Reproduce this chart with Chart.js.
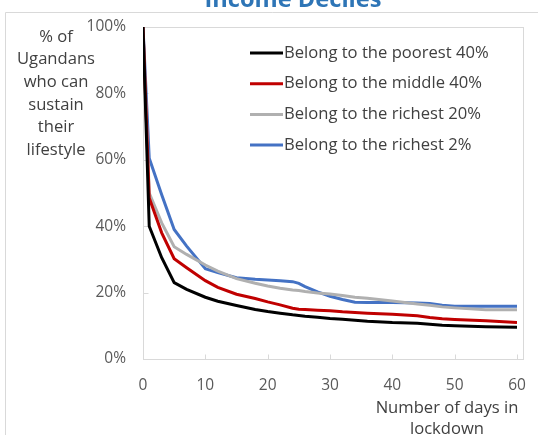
<!DOCTYPE html>
<html>
<head>
<meta charset="utf-8">
<script src="https://cdn.jsdelivr.net/npm/chart.js@4/dist/chart.umd.min.js"></script>
<style>
html,body{margin:0;padding:0;background:#fff;overflow:hidden;}
#wrap{position:relative;width:538px;height:435px;}
canvas{display:block;}
</style>
</head>
<body>
<div id="wrap"><canvas id="c" width="538" height="435"></canvas></div>
<script>
const chartTitle = 'Income Deciles';
const yTitleLines = ['% of', 'Ugandans', 'who can', 'sustain', 'their', 'lifestyle'];
const xTitleLines = ['Number of days in', 'lockdown'];
const seriesLabels = ['Belong to the poorest 40%', 'Belong to the middle 40%', 'Belong to the richest 20%', 'Belong to the richest 2%'];
const days = [0, 1, 3, 5, 7, 10, 12, 15, 18, 20, 22, 24, 25, 26, 28, 30, 32, 34, 36, 40, 44, 46, 48, 50, 55, 60];
const poorest40 = [100, 40, 30.5, 23, 21, 18.6, 17.4, 16.1, 14.9, 14.3, 13.8, 13.3, 13.1, 12.9, 12.6, 12.2, 12, 11.7, 11.4, 11, 10.8, 10.5, 10.2, 10, 9.7, 9.6];
const middle40 = [100, 48.5, 38, 30.2, 27.5, 23.6, 21.6, 19.5, 18.2, 17.2, 16.3, 15.3, 15, 14.9, 14.7, 14.5, 14.2, 14, 13.8, 13.5, 13, 12.5, 12.1, 11.9, 11.5, 11];
const richest20 = [100, 50, 41, 33.8, 31.5, 28.3, 26.5, 24.2, 22.8, 22, 21.3, 20.8, 20.6, 20.3, 19.9, 19.6, 19.1, 18.6, 18.3, 17.5, 16.6, 16.2, 15.7, 15.4, 14.8, 14.8];
const richest2 = [100, 60.5, 49.5, 39, 34, 27.2, 26, 24.5, 24, 23.8, 23.6, 23.3, 22.8, 21.8, 20.2, 18.9, 17.9, 17.1, 17, 17, 16.9, 16.7, 16.2, 15.9, 15.9, 15.9];
const xTicks = [0, 10, 20, 30, 40, 50, 60];
const yTicks = [0, 20, 40, 60, 80, 100];

const colors = ['#000000', '#C00000', '#B0B0B0', '#4472C4'];
const allSeries = [poorest40, middle40, richest20, richest2];
const FONT = '"Open Sans", "Noto Sans", sans-serif';
const gridColor = '#D9D9D9';

const datasets = allSeries.map((s, i) => ({
  label: seriesLabels[i],
  data: days.map((d, j) => ({x: d, y: s[j]})),
  borderColor: colors[i],
  backgroundColor: colors[i],
  borderWidth: 3,
  pointRadius: 0,
  tension: 0,
  fill: false
}));

const decor = {
  id: 'decor',
  beforeDraw(chart) {
    const ctx = chart.ctx;
    ctx.save();
    ctx.fillStyle = '#fff';
    ctx.fillRect(0, 0, chart.width, chart.height);
    ctx.strokeStyle = gridColor;
    ctx.lineWidth = 1;
    ctx.beginPath();
    ctx.moveTo(5.5, chart.height + 2);
    ctx.lineTo(5.5, 12.5);
    ctx.lineTo(chart.width + 2, 12.5);
    ctx.stroke();
    ctx.fillStyle = '#2E75B6';
    let size = 20;
    ctx.font = 'bold ' + size + 'px ' + FONT;
    const w = ctx.measureText(chartTitle).width;
    size = size * 177 / w;
    ctx.font = 'bold ' + size.toFixed(1) + 'px ' + FONT;
    ctx.textAlign = 'center';
    ctx.textBaseline = 'alphabetic';
    ctx.fillText(chartTitle, 293, 7);
    ctx.restore();
  },
  beforeDatasetsDraw(chart) {
    const ctx = chart.ctx;
    const a = chart.chartArea;
    const xs = chart.scales.x, ys = chart.scales.y;
    ctx.save();
    ctx.strokeStyle = gridColor;
    ctx.lineWidth = 1;
    const L = Math.round(a.left) + 0.5, T = Math.round(a.top) + 0.5;
    const R = Math.round(a.right) + 6.5, B = Math.round(a.bottom) + 0.5;
    ctx.strokeRect(L, T, R - L, B - T);
    ctx.beginPath();
    xTicks.forEach(t => {
      const px = Math.round(xs.getPixelForValue(t)) + 0.5;
      ctx.moveTo(px, B);
      ctx.lineTo(px, B - 5);
    });
    yTicks.forEach(t => {
      const py = Math.round(ys.getPixelForValue(t)) + 0.5;
      ctx.moveTo(L, py);
      ctx.lineTo(L + 5, py);
    });
    ctx.stroke();
    ctx.restore();
  },
  afterDraw(chart) {
    const ctx = chart.ctx;
    ctx.save();
    ctx.font = '16.6px ' + FONT;
    ctx.fillStyle = '#404040';
    ctx.textAlign = 'center';
    ctx.textBaseline = 'middle';
    yTitleLines.forEach((t, i) => ctx.fillText(t, 56, 37 + i * 22.6));
    xTitleLines.forEach((t, i) => ctx.fillText(t, 447, 408 + i * 21));
    ctx.textAlign = 'left';
    chart.data.datasets.forEach((ds, i) => {
      const y = 53 + i * 30.7;
      ctx.strokeStyle = ds.borderColor;
      ctx.lineWidth = 3;
      ctx.beginPath();
      ctx.moveTo(250, y);
      ctx.lineTo(283, y);
      ctx.stroke();
      ctx.fillStyle = '#404040';
      ctx.fillText(ds.label, 284, y);
    });
    ctx.restore();
  }
};

new Chart(document.getElementById('c'), {
  type: 'line',
  data: {datasets},
  options: {
    responsive: false,
    animation: false,
    devicePixelRatio: 1,
    layout: {padding: {top: 27, right: 21, left: 0, bottom: 0}},
    plugins: {legend: {display: false}, title: {display: false}, tooltip: {enabled: false}},
    scales: {
      x: {
        type: 'linear',
        min: 0,
        max: 60,
        afterBuildTicks(scale) { scale.ticks = xTicks.map(v => ({value: v})); },
        afterFit(scale) { scale.height = 76; scale.paddingRight = 0; scale.paddingLeft = 0; },
        grid: {display: false, drawTicks: false},
        border: {display: false},
        ticks: {color: '#595959', font: {family: FONT, size: 15.5}, padding: 17, maxRotation: 0, autoSkip: false}
      },
      y: {
        min: 0,
        max: 100,
        afterBuildTicks(scale) { scale.ticks = yTicks.map(v => ({value: v})); },
        afterFit(scale) { scale.width = 143; },
        grid: {display: false, drawTicks: false},
        border: {display: false},
        ticks: {color: '#595959', font: {family: FONT, size: 15.5}, padding: 17, callback: v => v + '%'}
      }
    }
  },
  plugins: [decor]
});
</script>
</body>
</html>
